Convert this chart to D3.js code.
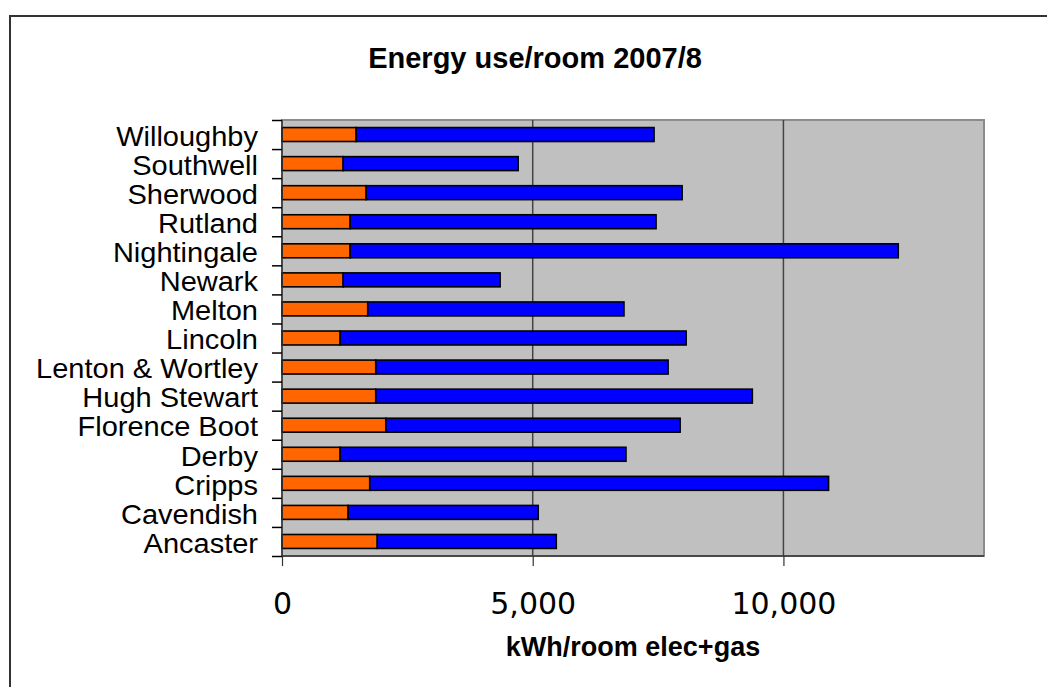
<!DOCTYPE html>
<html><head><meta charset="utf-8">
<script src="https://cdn.jsdelivr.net/npm/d3@7"></script>
<style>html,body{margin:0;padding:0;background:#fff;}svg{display:block;}</style>
</head><body>
<svg id="chart" width="1047" height="687"></svg>
<script>
const categories = ["Willoughby","Southwell","Sherwood","Rutland","Nightingale","Newark","Melton","Lincoln","Lenton & Wortley","Hugh Stewart","Florence Boot","Derby","Cripps","Cavendish","Ancaster"];
const elec = [1480,1220,1680,1360,1360,1220,1710,1160,1870,1870,2070,1160,1750,1320,1900];
const gas  = [5940,3490,6300,6100,10930,3130,5110,6900,5830,7510,5870,5700,9150,3790,3570];
const xTicks = [0,5000,10000];
const titleText = "Energy use/room 2007/8";
const xTitle = "kWh/room elec+gas";

const svg = d3.select("#chart");
const plot = {left:282, right:984, top:120, bottom:556};

// outer chart border
svg.append("rect").attr("x",10).attr("y",16).attr("width",1060).attr("height",700)
  .attr("fill","#fff").attr("stroke","#333").attr("stroke-width",2);

const x = d3.scaleLinear().domain([0,14000]).range([plot.left, plot.right]);
const y = d3.scaleBand().domain(categories).range([plot.top, plot.bottom]).paddingInner(0.52).paddingOuter(0.26);
const yIdx = d3.scaleLinear().domain([0,categories.length]).range([plot.top, plot.bottom]);

// plot area
svg.append("rect").attr("x",plot.left).attr("y",plot.top).attr("width",plot.right-plot.left).attr("height",plot.bottom-plot.top)
  .attr("fill","#c0c0c0").attr("stroke","#8c8c8c").attr("stroke-width",2);

// gridlines
svg.append("g").selectAll("line").data(xTicks.filter(d=>d>0)).join("line")
  .attr("x1",d=>x(d)).attr("x2",d=>x(d)).attr("y1",plot.top).attr("y2",plot.bottom)
  .attr("stroke","#444").attr("stroke-width",1.5);

// bars
const rows = categories.map((c,i)=>({cat:c, elec:elec[i], gas:gas[i]}));
const g = svg.append("g");
g.selectAll("rect.elec").data(rows).join("rect").attr("class","elec")
  .attr("x",x(0)).attr("y",d=>y(d.cat)).attr("width",d=>x(d.elec)-x(0)).attr("height",y.bandwidth())
  .attr("fill","#ff6600").attr("stroke","#000").attr("stroke-width",1.6);
g.selectAll("rect.gas").data(rows).join("rect").attr("class","gas")
  .attr("x",d=>x(d.elec)).attr("y",d=>y(d.cat)).attr("width",d=>x(d.elec+d.gas)-x(d.elec)).attr("height",y.bandwidth())
  .attr("fill","#0000ff").attr("stroke","#000").attr("stroke-width",1.6);

// x axis
const xAxis = svg.append("g").attr("transform",`translate(0,${plot.bottom})`)
  .call(d3.axisBottom(x).tickValues(xTicks).tickSize(10).tickFormat(d3.format(",")));
xAxis.select(".domain").attr("stroke","#333").attr("stroke-width",1.5).attr("d",`M${plot.left},0H${plot.right}`);
xAxis.selectAll(".tick line").attr("stroke","#333").attr("stroke-width",1.2);
xAxis.selectAll(".tick text").attr("fill","#000").attr("font-family","'DejaVu Sans',Verdana,sans-serif")
  .attr("font-size","30px").attr("dy",null).attr("y",57.5);

// y axis labels
const yAxis = svg.append("g").attr("transform",`translate(${plot.left},0)`)
  .call(d3.axisLeft(y).tickSize(0).tickPadding(24));
yAxis.select(".domain").remove();
yAxis.selectAll(".tick text").attr("fill","#000").attr("font-family","'Liberation Sans',Arial,sans-serif")
  .attr("font-size","27.5px").attr("dy","0.41em")
  .attr("x", null).attr("transform", "translate(-24,0) scale(1.055,1)");

// y axis boundary ticks
const yTickAxis = svg.append("g").attr("transform",`translate(${plot.left},0)`)
  .call(d3.axisLeft(yIdx).tickValues(d3.range(categories.length+1)).tickSize(10).tickFormat(""));
yTickAxis.select(".domain").attr("stroke","#333").attr("stroke-width",1.5).attr("d",`M0,${plot.top}V${plot.bottom}`);
yTickAxis.selectAll(".tick line").attr("stroke","#000").attr("stroke-width",1.5);

// titles
svg.append("text").attr("x",535).attr("y",68).attr("text-anchor","middle")
  .attr("font-family","'Liberation Sans',Arial,sans-serif").attr("font-weight","bold").attr("font-size","29px")
  .text(titleText);
svg.append("text").attr("x",(plot.left+plot.right)/2).attr("y",656).attr("text-anchor","middle")
  .attr("font-family","'Liberation Sans',Arial,sans-serif").attr("font-weight","bold").attr("font-size","27px")
  .text(xTitle);
</script>
</body></html>
